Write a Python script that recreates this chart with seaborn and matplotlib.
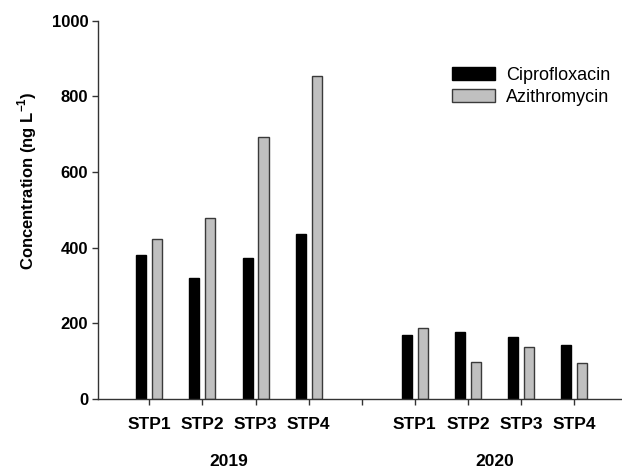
import numpy as np
import pandas as pd
import seaborn as sns
import matplotlib.pyplot as plt
from matplotlib.patches import Patch

# data
years = ["2019", "2020"]
sites = ["STP1", "STP2", "STP3", "STP4"]
ciprofloxacin = {"2019": [380, 320, 374, 435],
                 "2020": [169, 177, 164, 142]}
azithromycin = {"2019": [422, 479, 692, 854],
                "2020": [189, 97, 137, 94]}
drugs = ["Ciprofloxacin", "Azithromycin"]
COLORS = {"Ciprofloxacin": "#000000", "Azithromycin": "#C0C0C0"}
EDGES = {"Ciprofloxacin": "#000000", "Azithromycin": "#3a3a3a"}

rows = []
for y_index, year in enumerate(years):
    for s_index, site in enumerate(sites):
        pos = y_index * (len(sites) + 1) + s_index + 1
        rows.append({"pos": pos, "drug": drugs[0], "value": ciprofloxacin[year][s_index]})
        rows.append({"pos": pos, "drug": drugs[1], "value": azithromycin[year][s_index]})
df = pd.DataFrame(rows)

sns.set_style("ticks")
plt.rcParams['font.family'] = ['Liberation Sans', 'DejaVu Sans']
plt.rcParams['text.color'] = "black"
plt.rcParams['xtick.color'] = "#333333"
plt.rcParams['ytick.color'] = "#333333"
plt.rcParams['xtick.labelcolor'] = "black"
plt.rcParams['ytick.labelcolor'] = "black"
plt.rcParams['mathtext.fontset'] = "custom"
plt.rcParams['mathtext.bf'] = "Liberation Sans:bold"
plt.rcParams['mathtext.rm'] = "Liberation Sans"

fig = plt.figure(figsize=(6.22, 4.70), dpi=100)
ax = fig.add_axes([98 / 622, 1 - 399 / 470, 1 - 98 / 622, (399 - 20.7) / 470])

sns.barplot(data=df, x="pos", y="value", hue="drug", hue_order=drugs,
            palette=COLORS, native_scale=True, width=0.6, gap=0.37,
            legend=False, ax=ax)

for bar_group, drug in zip(ax.containers, drugs):
    for bar in bar_group:
        bar.set_edgecolor(EDGES[drug])
        bar.set_linewidth(1.0)

n_ticks = len(years) * (len(sites) + 1) - 1
tick_labels = (sites + [""]) * len(years)
ax.set_xticks(range(1, n_ticks + 1))
ax.set_xticklabels(tick_labels[:n_ticks], fontsize=12.5, fontweight="bold")
ax.set_xlim(0.034, 9.9)
ax.set_ylim(0, 1000)
ax.set_yticks(range(0, 1001, 200))
ax.set_yticklabels([str(v) for v in range(0, 1001, 200)], fontsize=12, fontweight="bold")
ax.set_xlabel("")
ax.set_ylabel("")
ax.tick_params(axis="both", direction="out", length=4, width=1)
ax.tick_params(axis="x", pad=9)
ax.tick_params(axis="y", pad=3)

sns.despine(ax=ax)
for side in ["left", "bottom"]:
    ax.spines[side].set_color("#333333")
    ax.spines[side].set_linewidth(1.0)

# year labels under each group
for y_index, year in enumerate(years):
    center = y_index * (len(sites) + 1) + (len(sites) + 1) / 2
    ax.text(center, -0.164, year, transform=ax.get_xaxis_transform(),
            ha="center", va="center", fontsize=12.5, fontweight="bold")

fig.text(27 / 622, 1 - 181 / 470, r"Concentration (ng L$^{\mathbf{-1}}$)",
         rotation=90, ha="center", va="center", fontsize=12, fontweight="bold")

handles = [Patch(facecolor=COLORS[d], edgecolor=EDGES[d], label=d) for d in drugs]
ax.legend(handles=handles, loc="upper left", bbox_to_anchor=(452 / 622, 1 - 67 / 470),
          bbox_transform=fig.transFigure, frameon=False, fontsize=13,
          handlelength=2.4, handleheight=0.7, labelspacing=0.28,
          handletextpad=0.6, borderpad=0, borderaxespad=0)

plt.savefig("out.png", dpi=100)
plt.close()
